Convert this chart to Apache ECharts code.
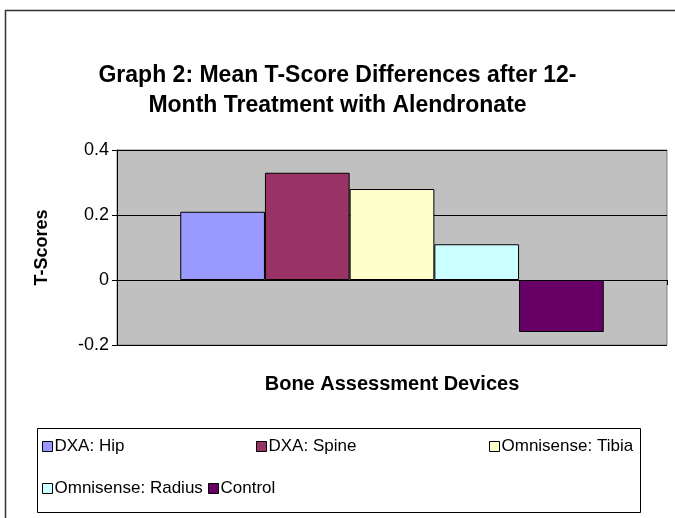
<!DOCTYPE html>
<html>
<head>
<meta charset="utf-8">
<script src="https://cdn.jsdelivr.net/npm/echarts@6/dist/echarts.min.js"></script>
<style>html,body{margin:0;padding:0;background:#fff}#c{width:675px;height:518px}</style>
</head>
<body>
<div id="c"></div>
<script>
const categories = [''];
const seriesNames = ['DXA: Hip', 'DXA: Spine', 'Omnisense: Tibia', 'Omnisense: Radius', 'Control'];
const seriesValues = [0.21, 0.33, 0.28, 0.11, -0.16];
const seriesColors = ['#9999FF', '#993366', '#FFFFCC', '#CCFFFF', '#660066'];
const yTicks = [-0.2, 0, 0.2, 0.4];

const FONT = 'Liberation Sans, Arial, sans-serif';
const chart = echarts.init(document.getElementById('c'));

const series = seriesNames.map((n, i) => ({
  name: n,
  type: 'bar',
  data: [seriesValues[i]],
  barGap: '0%',
  barCategoryGap: '23%',
  itemStyle: { color: seriesColors[i], borderColor: '#000', borderWidth: 1 }
}));

const legendCommon = {
  orient: 'horizontal',
  icon: 'rect',
  itemWidth: 10,
  itemHeight: 10,
  itemGap: 0,
  padding: 0,
  textStyle: { fontFamily: FONT, fontSize: 17, color: '#000', padding: [0, 0, 0, -3] },
  itemStyle: { borderColor: '#000', borderWidth: 1 }
};
// legend slot positions [left, top]
const legendSlots = [[42, 438], [256, 438], [489, 438], [42, 480], [208, 480]];

chart.setOption({
  animation: false,
  backgroundColor: '#fff',
  title: {
    text: 'Graph 2: Mean T-Score Differences after 12-\nMonth Treatment with Alendronate',
    left: 'center',
    top: 56,
    textStyle: { fontFamily: FONT, fontSize: 23, fontWeight: 'bold', color: '#000', lineHeight: 30 }
  },
  grid: {
    left: 117, right: 8, top: 150, bottom: 173,
    show: true, backgroundColor: '#C0C0C0', borderColor: '#808080', borderWidth: 1
  },
  legend: seriesNames.map((n, i) => Object.assign({}, legendCommon, {
    data: [n], left: legendSlots[i][0], top: legendSlots[i][1]
  })),
  xAxis: {
    type: 'category',
    data: categories,
    axisLine: { onZero: true, lineStyle: { color: '#000', width: 1 } },
    axisTick: { show: true, length: 5, lineStyle: { color: '#000' } },
    axisLabel: { show: false },
    splitLine: { show: false }
  },
  yAxis: {
    type: 'value',
    min: yTicks[0],
    max: yTicks[yTicks.length - 1],
    interval: 0.2,
    name: 'T-Scores',
    nameLocation: 'middle',
    nameGap: 66,
    nameTextStyle: { fontFamily: FONT, fontSize: 18, fontWeight: 'bold', color: '#000' },
    axisLine: { show: true, lineStyle: { color: '#000', width: 1 } },
    axisTick: { show: true, length: 5, lineStyle: { color: '#000' } },
    axisLabel: { fontFamily: FONT, fontSize: 18, color: '#000', margin: 8 },
    splitLine: { show: true, lineStyle: { color: '#000', width: 1 } }
  },
  graphic: [
    { type: 'rect', shape: { x: 5.5, y: 10.5, width: 700, height: 540 }, style: { fill: 'none', stroke: '#333', lineWidth: 1.5 }, silent: true, z: -1 },
    { type: 'rect', shape: { x: 37.5, y: 428.5, width: 603, height: 84 }, style: { fill: 'none', stroke: '#000', lineWidth: 1 }, silent: true },
    { type: 'text', x: 392, y: 384, style: { text: 'Bone Assessment Devices', font: 'bold 20px ' + FONT, fill: '#000', align: 'center', verticalAlign: 'middle' } }
  ],
  series: series
});
</script>
</body>
</html>
